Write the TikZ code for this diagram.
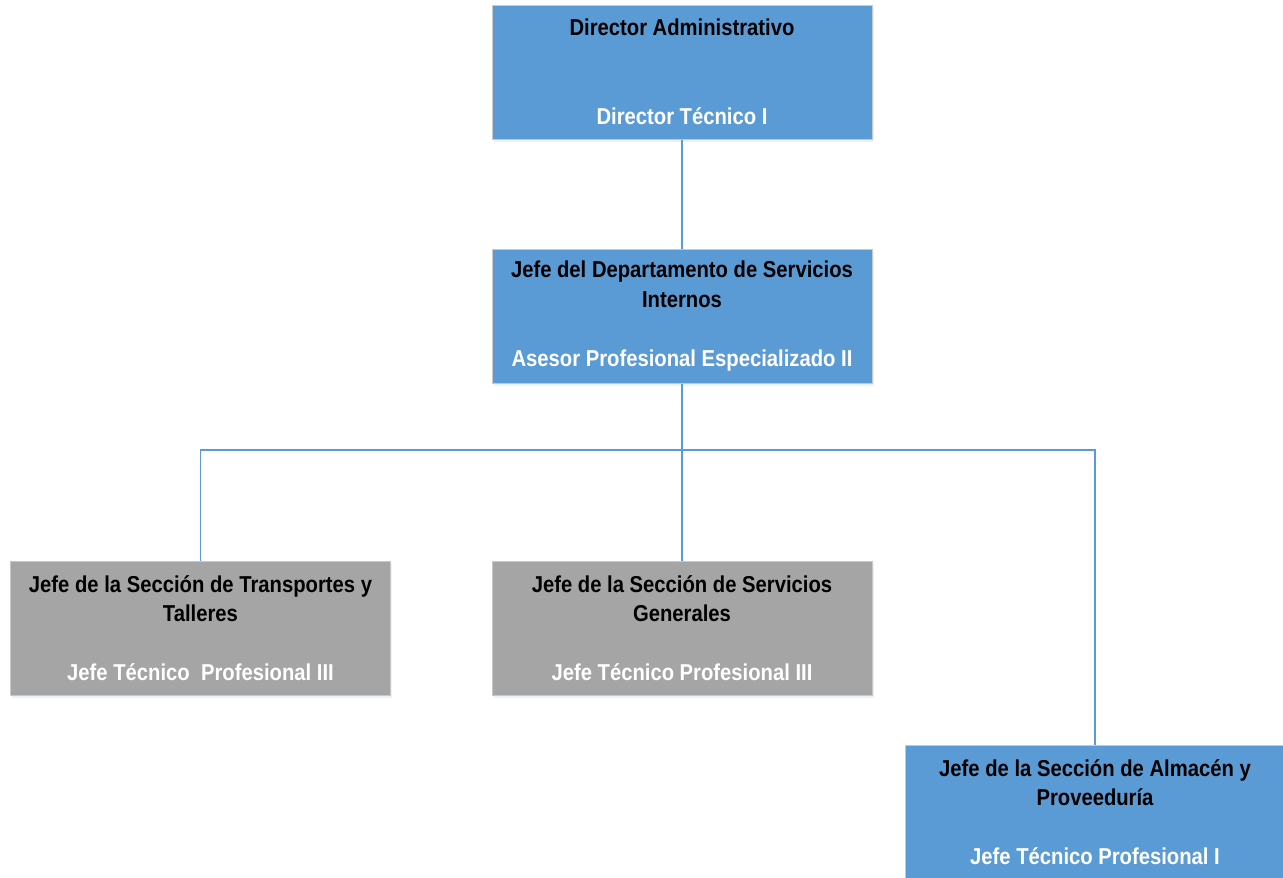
\documentclass[tikz,border=0pt]{standalone}
\usepackage{fontspec}
\setmainfont{Liberation Sans}[FakeStretch=0.88]
\usetikzlibrary{shadows}
\definecolor{boxblue}{HTML}{5B9BD5}
\definecolor{boxgray}{HTML}{A5A5A5}
\definecolor{lineblue}{HTML}{5B9BD5}
\definecolor{edgegray}{HTML}{C8C8C8}
\tikzset{
  orgbox/.style={draw=edgegray, line width=1pt, minimum width=380pt, minimum height=134pt,
    align=center, inner sep=0pt, font=\fontsize{23}{29.5}\selectfont\bfseries,
    drop shadow={shadow xshift=1.5pt, shadow yshift=-2.5pt, fill=lineblue!35, opacity=0.35}},
  bluebox/.style={orgbox, fill=boxblue},
  graybox/.style={orgbox, fill=boxgray},
  link/.style={draw=lineblue, line width=1.4pt},
}
\newcommand{\subt}[1]{\textcolor{white}{#1}}
\begin{document}
\begin{tikzpicture}[x=1pt, y=-1pt]
\useasboundingbox (0,0) rectangle (1283,878);
\node[bluebox] (dir) at (682,72) {Director Administrativo\\[59pt]\subt{Director Técnico I}};
\node[bluebox] (dep) at (682,316) {Jefe del Departamento de Servicios\\Internos\\[29.5pt]\subt{Asesor Profesional Especializado II}};
\node[graybox] (tra) at (200.5,628) {Jefe de la Sección de Transportes y\\Talleres\\[29.5pt]\subt{Jefe Técnico\ \ Profesional III}};
\node[graybox] (gen) at (682,628) {Jefe de la Sección de Servicios\\Generales\\[29.5pt]\subt{Jefe Técnico Profesional III}};
\node[bluebox] (alm) at (1095,812) {Jefe de la Sección de Almacén y\\Proveeduría\\[29.5pt]\subt{Jefe Técnico Profesional I}};
\coordinate (bus) at (682,450);
\draw[link] (dir) -- (dep);
\draw[link] (dep) -- (bus);
\draw[link] (bus) -| (tra);
\draw[link] (bus) -- (gen);
\draw[link] (bus) -| (alm);
\end{tikzpicture}
\end{document}
